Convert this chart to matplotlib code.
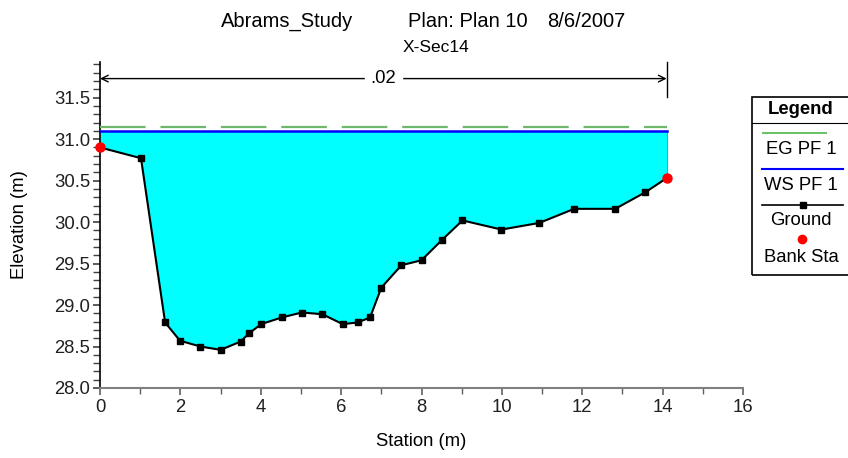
import numpy as np
import matplotlib
matplotlib.use('Agg')
import matplotlib.pyplot as plt
from matplotlib.lines import Line2D
from matplotlib.patches import Rectangle
from matplotlib.ticker import MultipleLocator

plt.rcParams['font.family'] = ['Liberation Sans', 'DejaVu Sans']

# ground profile
station   = [0.0, 1.02, 1.62, 1.99, 2.50, 3.00, 3.50, 3.71, 4.01, 4.52, 5.02, 5.53,
             6.04, 6.41, 6.72, 7.00, 7.50, 8.00, 8.52, 9.02, 9.99, 10.93, 11.80,
             12.82, 13.57, 14.10]
elevation = [30.90, 30.77, 28.79, 28.57, 28.50, 28.46, 28.56, 28.66, 28.77, 28.85,
             28.91, 28.89, 28.77, 28.79, 28.85, 29.21, 29.48, 29.54, 29.79, 30.02,
             29.91, 29.99, 30.16, 30.16, 30.36, 30.53]
bank_sta  = [0.0, 14.10]
bank_elev = [30.90, 30.53]
ws_elev   = 31.10
eg_elev   = 31.15
mann_n    = ".02"
mann_y    = 31.73

W, H = 848, 458
FS = 13.3
fig = plt.figure(figsize=(W / 100, H / 100), dpi=100)
ax = fig.add_axes([100 / W, 70 / H, 643 / W, 326 / H])

st = np.array(station)
el = np.array(elevation)

# water area
ax.fill_between(st, el, ws_elev, color='#00FFFF', linewidth=0, zorder=1)
ax.plot([st[-1], st[-1]], [el[-1], ws_elev], color='#00C8C8', lw=0.8, zorder=2)
ax.plot([st[0], st[-1]], [ws_elev, ws_elev], color='#0000FF', lw=1.8, zorder=3)
ax.plot([st[0], st[-1]], [eg_elev, eg_elev], color='#6DB86D', lw=1.6,
        linestyle=(0, (20.5, 6.7)), zorder=3)

ax.plot(st, el, color='black', lw=1.5, marker='s', markersize=5, zorder=4)
ax.plot(bank_sta, bank_elev, 'o', color='#FF0000', markersize=6.5, zorder=5, clip_on=False)

# manning's n extent
ax.annotate('', xy=(bank_sta[0], mann_y), xytext=(bank_sta[1], mann_y),
            arrowprops=dict(arrowstyle='<->', color='black', lw=1.0,
                            shrinkA=0, shrinkB=0, mutation_scale=12))
ax.plot([bank_sta[1], bank_sta[1]], [31.51, 31.93], color='black', lw=1.0, clip_on=False)
ax.text((bank_sta[0] + bank_sta[1]) / 2, mann_y, mann_n, ha='center', va='center',
        fontsize=FS, backgroundcolor='white', zorder=6)

ax.set_xlim(0, 16)
ax.set_ylim(28.0, 31.93)
ax.xaxis.set_major_locator(MultipleLocator(2))
ax.xaxis.set_minor_locator(MultipleLocator(1))
ax.yaxis.set_minor_locator(MultipleLocator(0.1))
ax.yaxis.set_major_formatter(matplotlib.ticker.FormatStrFormatter('%.1f'))
ax.set_yticks([28.0, 28.5, 29.0, 29.5, 30.0, 30.5, 31.0, 31.5])

ax.spines['top'].set_visible(False)
ax.spines['right'].set_visible(False)
ax.spines['bottom'].set_color('#808080')
ax.spines['bottom'].set_linewidth(1.5)
ax.spines['left'].set_color('black')
ax.spines['left'].set_linewidth(1.2)
ax.tick_params(axis='x', which='both', colors='#606060', labelcolor='#202020', labelsize=FS, pad=3)
ax.tick_params(axis='x', which='major', length=5, width=1.2)
ax.tick_params(axis='x', which='minor', length=4, width=1.0)
ax.tick_params(axis='y', which='both', colors='#404040', labelcolor='#202020', labelsize=FS, pad=2)
ax.tick_params(axis='y', which='major', length=5, width=1.2)
ax.tick_params(axis='y', which='minor', length=5, width=1.0)

ax.set_xlabel('Station (m)', fontsize=FS, va='center')
ax.set_ylabel('Elevation (m)', fontsize=FS, va='center')
ax.xaxis.set_label_coords(0.5, (388 - 441) / 326)
ax.yaxis.set_label_coords((20 - 100) / 643, 0.5)

# titles
def fx(px):
    return px / W

def fy(py):
    return 1 - py / H

fig.text(fx(221), fy(27), 'Abrams_Study', fontsize=14.5, ha='left', va='baseline')
fig.text(fx(408), fy(27), 'Plan: Plan 10', fontsize=14.5, ha='left', va='baseline')
fig.text(fx(547), fy(27), '8/6/2007', fontsize=14.5, ha='left', va='baseline')
fig.text(fx(436), fy(52), 'X-Sec14', fontsize=12.5, ha='center', va='baseline')

# legend box
fig.add_artist(Rectangle((fx(752), fy(275)), fx(120), (275 - 97) / H, fill=False,
                         edgecolor='black', lw=1.2, transform=fig.transFigure))
fig.add_artist(Line2D([fx(752), fx(848)], [fy(123), fy(123)], color='black', lw=0.8))
fig.text(fx(801), fy(110), 'Legend', fontsize=FS, fontweight='bold', ha='center', va='center')
fig.add_artist(Line2D([fx(762), fx(843)], [fy(132.5), fy(132.5)], color='#4CB84C', lw=1.2,
                      linestyle=(0, (39, 12))))
fig.text(fx(801), fy(150), 'EG PF 1', fontsize=FS, ha='center', va='center')
fig.add_artist(Line2D([fx(762), fx(843)], [fy(169), fy(169)], color='#0000FF', lw=1.5))
fig.text(fx(801), fy(186), 'WS PF 1', fontsize=FS, ha='center', va='center')
fig.add_artist(Line2D([fx(762), fx(843)], [fy(205), fy(205)], color='black', lw=1.2))
fig.add_artist(Line2D([fx(803)], [fy(205)], color='black', marker='s', markersize=5, lw=0))
fig.text(fx(801), fy(221), 'Ground', fontsize=FS, ha='center', va='center')
fig.add_artist(Line2D([fx(802)], [fy(239)], color='#FF0000', marker='o', markersize=6, lw=0))
fig.text(fx(801), fy(257), 'Bank Sta', fontsize=FS, ha='center', va='center')

fig.savefig('out.png', dpi=100)
